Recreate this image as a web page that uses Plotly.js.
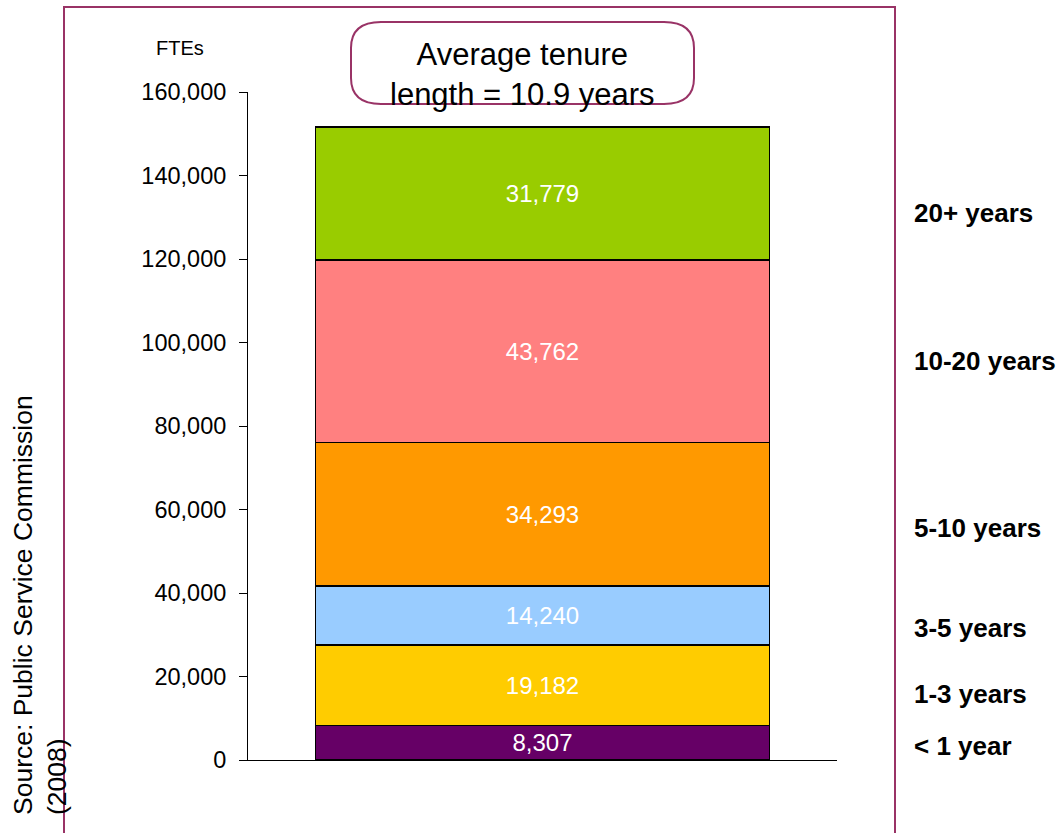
<!DOCTYPE html>
<html>
<head>
<meta charset="utf-8">
<script src="https://cdn.plot.ly/plotly-3.0.1.min.js"></script>
<style>
  html, body { margin: 0; padding: 0; background: #ffffff; }
  #chart { width: 1061px; height: 833px; }
</style>
</head>
<body>
<div id="chart"></div>
<script>
// Tenure bands, bottom of the stack first
const bands = ['< 1 year', '1-3 years', '3-5 years', '5-10 years', '10-20 years', '20+ years'];
const ftes = [8307, 19182, 14240, 34293, 43762, 31779];
const bandColors = ['#660066', '#FFCC00', '#99CCFF', '#FF9900', '#FF8080', '#99CC00'];
const yTicks = [0, 20000, 40000, 60000, 80000, 100000, 120000, 140000, 160000];
const calloutText = 'Average tenure<br>length = 10.9 years';
const unitLabel = 'FTEs';
const sourceText = 'Source: Public Service Commission<br>(2008)';

// Page geometry (pixels) used to place the free-floating decorations
const W = 1061, H = 833;
const M = { l: 248, r: 224, t: 92, b: 73 };
const plotW = W - M.l - M.r, plotH = H - M.t - M.b;
const px = x => (x - M.l) / plotW;          // page x -> paper x
const py = y => (H - M.b - y) / plotH;      // page y -> paper y

const FONT = 'Liberation Sans, Arial, sans-serif';

const traces = bands.map((name, i) => ({
  type: 'bar',
  name: name,
  x: [0],
  y: [ftes[i]],
  width: 0.77,
  marker: { color: bandColors[i], line: { color: '#000000', width: 1.5 } },
  texttemplate: '%{y:,}',
  textposition: 'inside',
  insidetextanchor: 'middle',
  constraintext: 'none',
  textfont: { family: FONT, size: 24, color: '#ffffff' },
  hoverinfo: 'skip',
  showlegend: false
}));

// Band names on the right, hand placed beside the stack
const labelPageY = [746, 694, 628, 528, 361, 213];
const annotations = bands.map((name, i) => ({
  xref: 'paper', yref: 'paper',
  x: px(912), y: py(labelPageY[i]),
  xanchor: 'left', yanchor: 'middle',
  text: '<b>' + name + '</b>',
  showarrow: false,
  font: { family: FONT, size: 26, color: '#000000' }
}));

annotations.push({
  xref: 'paper', yref: 'paper',
  x: px(180), y: py(48),
  xanchor: 'center', yanchor: 'middle',
  text: unitLabel, showarrow: false,
  font: { family: FONT, size: 20, color: '#000000' }
});

annotations.push({
  xref: 'paper', yref: 'paper',
  x: px(522), y: py(74),
  xanchor: 'center', yanchor: 'middle',
  text: calloutText, showarrow: false, align: 'center',
  font: { family: FONT, size: 31, color: '#000000' }
});

annotations.push({
  xref: 'paper', yref: 'paper',
  x: px(40), y: py(605),
  xanchor: 'center', yanchor: 'middle',
  text: sourceText, showarrow: false, align: 'left',
  textangle: -90,
  font: { family: FONT, size: 26.5, color: '#000000' }
});

// Rounded callout outline
function roundedBox(x0, y0, x1, y1, rx, ry) {
  const X = v => px(v), Y = v => py(v);
  return 'M ' + X(x0 + rx) + ',' + Y(y0) +
    ' L ' + X(x1 - rx) + ',' + Y(y0) +
    ' Q ' + X(x1) + ',' + Y(y0) + ' ' + X(x1) + ',' + Y(y0 + ry) +
    ' L ' + X(x1) + ',' + Y(y1 - ry) +
    ' Q ' + X(x1) + ',' + Y(y1) + ' ' + X(x1 - rx) + ',' + Y(y1) +
    ' L ' + X(x0 + rx) + ',' + Y(y1) +
    ' Q ' + X(x0) + ',' + Y(y1) + ' ' + X(x0) + ',' + Y(y1 - ry) +
    ' L ' + X(x0) + ',' + Y(y0 + ry) +
    ' Q ' + X(x0) + ',' + Y(y0) + ' ' + X(x0 + rx) + ',' + Y(y0) + ' Z';
}

const shapes = [
  {
    type: 'rect', xref: 'paper', yref: 'paper', layer: 'above',
    x0: px(64), x1: px(895), y0: py(845), y1: py(7),
    line: { color: '#993366', width: 2 }, fillcolor: 'rgba(0,0,0,0)'
  },
  {
    type: 'path', xref: 'paper', yref: 'paper', layer: 'below',
    path: roundedBox(351, 22, 694, 104, 30, 26),
    line: { color: '#993366', width: 2 }, fillcolor: '#ffffff'
  }
];

const layout = {
  width: W, height: H,
  margin: M,
  paper_bgcolor: '#ffffff',
  plot_bgcolor: '#ffffff',
  barmode: 'stack',
  showlegend: false,
  font: { family: FONT, color: '#000000' },
  xaxis: {
    range: [-0.5, 0.5],
    showline: true, linecolor: '#000000', linewidth: 1,
    showticklabels: false, ticks: '', showgrid: false, zeroline: false,
    fixedrange: true
  },
  yaxis: {
    range: [0, 160000],
    tickvals: yTicks,
    tickformat: ',d',
    ticks: 'outside', ticklen: 8, tickcolor: '#000000', tickwidth: 1,
    ticklabelstandoff: 8,
    showline: true, linecolor: '#000000', linewidth: 1,
    showgrid: false, zeroline: false,
    tickfont: { family: FONT, size: 23.5, color: '#000000' },
    fixedrange: true
  },
  annotations: annotations,
  shapes: shapes
};

Plotly.newPlot('chart', traces, layout, { displayModeBar: false, staticPlot: true });
</script>
</body>
</html>
